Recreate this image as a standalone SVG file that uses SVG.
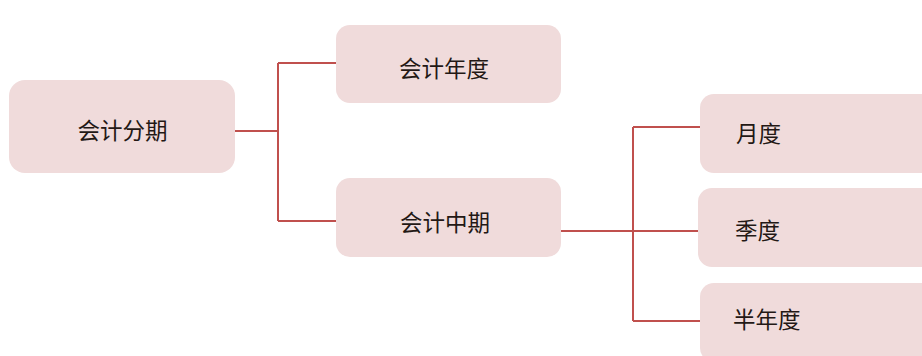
<svg xmlns="http://www.w3.org/2000/svg" width="922" height="356" viewBox="0 0 922 356">
<style>
.box{fill:#f0dbdb;stroke:none}
.lbl{font-family:"Noto Sans CJK SC","Liberation Serif",serif;font-size:22.5px;fill:#231815;dominant-baseline:central}
.mid{text-anchor:middle}
.conn{fill:none;stroke:#c0504d;stroke-width:2}
</style>
<rect width="922" height="356" fill="#ffffff"/>
<g id="connectors">
<path class="conn" d="M235 131 H278 M278 63 V221 M278 63 H336 M278 221 H336"/>
<path class="conn" d="M561 231 H700 M633 127 V321 M633 127 H700 M633 321 H700"/>
</g>
<g id="n-fenqi"><rect class="box" x="9" y="80" width="226" height="93" rx="16"/><text class="lbl mid" x="122.5" y="129">会计分期</text></g>
<g id="n-niandu"><rect class="box" x="336" y="25" width="225" height="78" rx="14"/><text class="lbl mid" x="444" y="67">会计年度</text></g>
<g id="n-zhongqi"><rect class="box" x="336" y="178" width="225" height="79" rx="14"/><text class="lbl mid" x="445" y="221">会计中期</text></g>
<g id="n-yuedu"><rect class="box" x="700" y="94" width="240" height="79" rx="14"/><text class="lbl" x="736" y="132">月度</text></g>
<g id="n-jidu"><rect class="box" x="698" y="188" width="240" height="79" rx="14"/><text class="lbl" x="735" y="229">季度</text></g>
<g id="n-bannian"><rect class="box" x="700" y="283" width="240" height="79" rx="14"/><text class="lbl" x="733" y="318">半年度</text></g>
</svg>
